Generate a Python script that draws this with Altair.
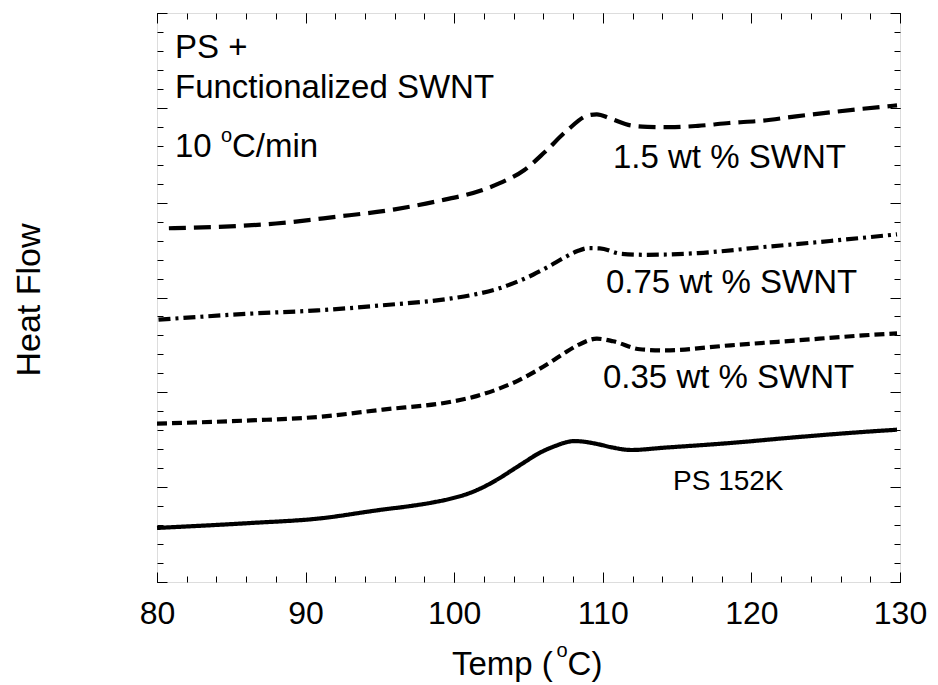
import altair as alt
import pandas as pd

# ---------------- data ----------------
series_names = ["1.5 wt % SWNT", "0.75 wt % SWNT", "0.35 wt % SWNT", "PS 152K"]

temp_15 = [80.8, 84.0, 88.0, 92.0, 96.0, 99.0, 101.8, 103.1, 104.7, 106.1, 107.6, 109.0,
           109.6, 110.5, 111.9, 113.0, 114.5, 116.4, 118.5, 120.8, 123.0, 125.3, 127.5, 129.8]
flow_15 = [18.65, 18.72, 18.9, 19.25, 19.65, 20.1, 20.64, 21.04, 21.71, 22.67, 23.81, 24.6,
           24.66, 24.44, 24.07, 24.0, 23.98, 24.05, 24.2, 24.33, 24.55, 24.76, 24.95, 25.13]

temp_075 = [80.1, 86.3, 90.8, 95.2, 99.7, 101.5, 103.1, 104.3, 105.3, 106.4, 107.4, 108.3,
            109.0, 109.8, 111.2, 113.0, 114.4, 116.4, 120.8, 125.3, 129.8]
flow_075 = [13.83, 14.15, 14.32, 14.59, 14.94, 15.18, 15.50, 15.85, 16.20, 16.65, 17.10, 17.45,
            17.60, 17.59, 17.31, 17.25, 17.27, 17.34, 17.66, 17.98, 18.33]

temp_035 = [80.0, 86.3, 90.8, 95.2, 99.7, 101.5, 103.1, 104.3, 105.4, 106.5, 107.4, 108.3,
            109.6, 110.7, 112.5, 114.1, 118.6, 123.1, 127.5, 129.8]
flow_035 = [8.35, 8.52, 8.70, 9.09, 9.49, 9.80, 10.22, 10.62, 11.08, 11.60, 12.06, 12.48,
            12.83, 12.69, 12.27, 12.21, 12.48, 12.74, 13.0, 13.11]

temp_ps = [80.0, 86.3, 90.8, 95.2, 97.0, 98.6, 99.8, 100.9, 101.9, 103.1, 104.0, 104.8,
           105.5, 106.2, 106.9, 107.5, 108.1, 108.7, 109.6, 110.6, 111.9, 114.1, 118.6,
           123.1, 127.5, 129.8]
flow_ps = [2.85, 3.11, 3.34, 3.82, 4.00, 4.20, 4.40, 4.65, 4.98, 5.50, 5.95, 6.35,
           6.70, 6.98, 7.20, 7.36, 7.43, 7.40, 7.28, 7.10, 6.96, 7.08, 7.33,
           7.64, 7.91, 8.03]

x_major = [80, 90, 100, 110, 120, 130]
x_minor = list(range(80, 131, 2))
y_major = list(range(0, 31, 5))
y_minor = list(range(0, 31, 1))

header_lines = ["PS +", "Functionalized SWNT"]
rate_parts = ["10", "o", "C/min"]
x_title_parts = ["Temp (", "o", "C)"]
y_title = "Heat Flow"

# ---------------- table ----------------
rows = []
for name, ts, fs in zip(series_names,
                        [temp_15, temp_075, temp_035, temp_ps],
                        [flow_15, flow_075, flow_035, flow_ps]):
    for t, f in zip(ts, fs):
        rows.append({"series": name, "temp": t, "flow": f})
df = pd.DataFrame(rows)

W, H = 743, 569
FONT = "Liberation Sans"
dashes = [[17, 8], [12, 5, 3, 5], [10, 5], [1, 0]]

xs = alt.Scale(domain=[80, 130], nice=False, zero=False)
ys = alt.Scale(domain=[0, 30], nice=False, zero=False)

base = alt.Chart(df)

lines = base.mark_line(strokeWidth=4.2, interpolate="monotone", color="black").encode(
    x=alt.X("temp:Q", scale=xs,
            axis=alt.Axis(orient="bottom", values=x_major, ticks=False, tickSize=0,
                          domain=False, grid=False, title=None, labelFont=FONT,
                          labelFontSize=32, labelColor="black", labelPadding=16,
                          labelFlush=False, labelOverlap=False, labelBound=False)),
    y=alt.Y("flow:Q", scale=ys, axis=None),
    strokeDash=alt.StrokeDash("series:N",
                              scale=alt.Scale(domain=series_names, range=dashes),
                              legend=None),
)


def tick_layer(x_orient, y_orient, size, xvals, yvals):
    return base.mark_point(opacity=0).encode(
        x=alt.X("temp:Q", scale=xs,
                axis=alt.Axis(orient=x_orient, offset=-H, values=xvals, tickSize=size,
                              labels=False, domain=False, grid=False, title=None,
                              tickColor="black", tickWidth=1)),
        y=alt.Y("flow:Q", scale=ys,
                axis=alt.Axis(orient=y_orient, offset=-W, values=yvals, tickSize=size,
                              labels=False, domain=False, grid=False, title=None,
                              tickColor="black", tickWidth=1)),
    )


ticks = [
    tick_layer("top", "right", 6, x_minor, y_minor),    # bottom / left edges, minor
    tick_layer("top", "right", 10, x_major, y_major),   # bottom / left edges, major
    tick_layer("bottom", "left", 6, x_minor, y_minor),  # top / right edges, minor
    tick_layer("bottom", "left", 10, x_major, y_major), # top / right edges, major
]


def text(label, px, py, size, align="left", angle=0):
    kw = dict(font=FONT, fontSize=size, align=align, baseline="alphabetic", color="black")
    if angle:
        kw["angle"] = angle
    return alt.Chart(pd.DataFrame({"t": [label]})).mark_text(**kw).encode(
        x=alt.value(px), y=alt.value(py), text="t:N")


texts = [
    text(header_lines[0], 18, 45, 33),
    text(header_lines[1], 18, 85, 33),
    text(rate_parts[0], 18, 144, 33),
    text(rate_parts[1], 64, 129, 20),
    text(rate_parts[2], 75, 144, 33),
    text(series_names[0], 456, 155, 33),
    text(series_names[1], 449, 280, 33),
    text(series_names[2], 446, 375, 33),
    text(series_names[3], 516, 477, 28),
    text(x_title_parts[0], 295, 662, 33),
    text(x_title_parts[1], 399.5, 644, 20),
    text(x_title_parts[2], 410.6, 662, 33),
    text(y_title, -117, 287, 34, align="center", angle=270),
]

chart = alt.layer(lines, *ticks, *texts).resolve_axis(
    x="independent", y="independent"
).properties(
    width=W, height=H,
    padding={"left": 157, "top": 13, "right": 38, "bottom": 103},
    autosize=alt.AutoSizeParams(type="none"),
).configure_view(
    stroke="black", strokeWidth=1.5
).configure(background="white")

chart.save("out.html", embed_options={"renderer": "svg", "actions": False})
